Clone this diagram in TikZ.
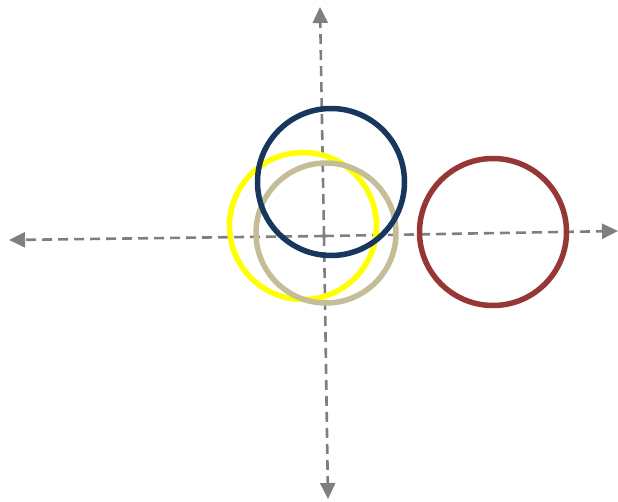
\documentclass[tikz,border=0pt]{standalone}
\usepackage{xcolor}
\usepackage{tikz}
\usetikzlibrary{arrows.meta}
\definecolor{axisgray}{HTML}{7F7F7F}
\definecolor{darkblue}{HTML}{17375E}
\definecolor{sandtan}{HTML}{C4BD97}
\definecolor{brightyellow}{HTML}{FFFF00}
\definecolor{darkred}{HTML}{953735}

\begin{document}
\begin{tikzpicture}[x=1pt, y=-1pt,
    axis/.style={draw=axisgray, line width=2.6pt, dash pattern=on 10pt off 6pt,
                 -{Triangle[length=16pt, width=15pt]}},
    ring/.style={circle, line width=5.5pt, minimum size=147pt, inner sep=0pt}]
  \useasboundingbox (0,0) rectangle (618,502);
  % axes
  \coordinate (top) at (320,7);
  \coordinate (bottom) at (328,499);
  \coordinate (left) at (9,240);
  \coordinate (right) at (618,231);
  \coordinate (mid) at (324,236);
  \draw[axis] (mid) -- (top);
  \draw[axis] (mid) -- (bottom);
  \draw[axis] (mid) -- (left);
  \draw[axis] (mid) -- (right);
  % circles
  \node[ring, draw=brightyellow] (yellowring) at (303,226) {};
  \node[ring, draw=sandtan, minimum size=140pt] (tanring) at (326,233) {};
  \node[ring, draw=darkblue] (bluering) at (331,182) {};
  \node[ring, draw=darkred] (redring) at (493,232) {};
\end{tikzpicture}
\end{document}
